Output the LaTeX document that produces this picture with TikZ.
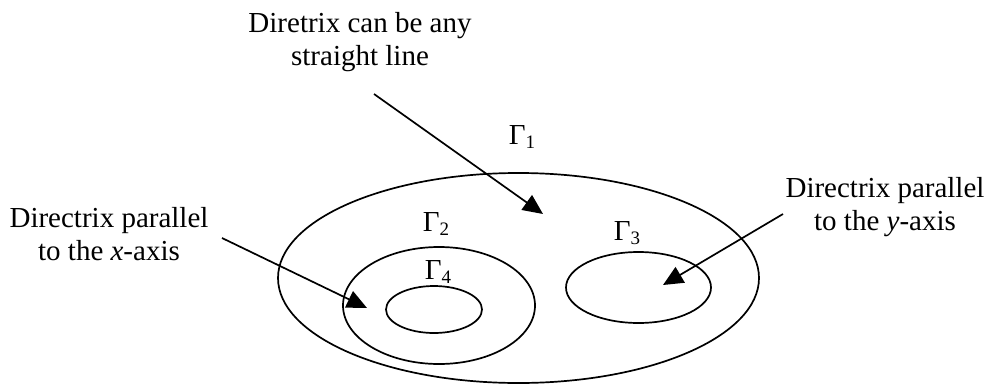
\documentclass[tikz,border=0pt]{standalone}
\usepackage{fontspec}
\setmainfont{Liberation Serif}
\usetikzlibrary{arrows.meta}
\tikzstyle{note}=[align=center, font=\fontsize{29}{33}\selectfont, inner sep=0pt]
\tikzstyle{gam}=[font=\fontsize{29}{32}\selectfont, inner sep=0pt]
\tikzstyle{region}=[line width=1.7pt]
\tikzstyle{pointer}=[line width=1.7pt, -{Triangle[length=20pt,width=18pt]}]
\newcommand{\gsub}[1]{Γ\raisebox{-0.3ex}{\fontsize{19}{19}\selectfont #1}}

\begin{document}
\begin{tikzpicture}[x=1pt, y=-1pt]
			\useasboundingbox (0,0) rectangle (992,388);

			% Sets of conics
			\draw[region] (518.5,278) ellipse [x radius=240.5, y radius=105];
			\draw[region] (439,305.5) ellipse [x radius=96, y radius=58.5];
			\draw[region] (434,309.5) ellipse [x radius=48, y radius=23.5];
			\draw[region] (638.5,287.5) ellipse [x radius=72.5, y radius=35.5];

			\node[gam] (g1) at (522,137) {\gsub{1}};
			\node[gam] (g2) at (436,224) {\gsub{2}};
			\node[gam] (g4) at (438,272) {\gsub{4}};
			\node[gam] (g3) at (627,233) {\gsub{3}};

			% Descriptions
			\node[note] (any) at (360,42) {Diretrix can be any\\straight line};
			\node[note] (xpar) at (109,234) {Directrix parallel\\to the \textit{x}-axis};
			\node[note] (ypar) at (885,207) {Directrix parallel\\to the \textit{y}-axis};

			\coordinate (anyfrom) at (374,94);
			\coordinate (anyto) at (543,214);
			\coordinate (xfrom) at (222,238);
			\coordinate (xto) at (367,308);
			\coordinate (yfrom) at (783,214);
			\coordinate (yto) at (663,285);

			\draw[pointer] (anyfrom) -- (anyto);
			\draw[pointer] (xfrom) -- (xto);
			\draw[pointer] (yfrom) -- (yto);
		\end{tikzpicture}
\end{document}
